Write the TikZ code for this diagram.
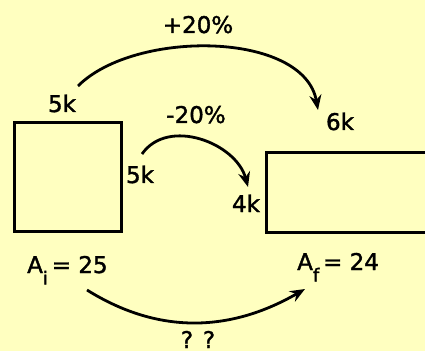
\documentclass[tikz,border=0pt]{standalone}
\usepackage{fontspec}
\setmainfont[FakeBold=1.6]{DejaVu Sans}
\usetikzlibrary{arrows.meta}

\definecolor{paper}{RGB}{255,255,192}

\begin{document}
\begin{tikzpicture}[
  x=1pt, y=1pt,
  font=\fontsize{23}{26}\selectfont,
  shp/.style={line width=3pt},
  a/.style={-{Stealth[length=15pt, width=12pt, inset=5pt]}, line width=2.8pt},
  lbl/.style={anchor=base, inner sep=0pt}]

% background and frame of the picture
\fill[paper] (0,0) rectangle (425,351);
\useasboundingbox (0,0) rectangle (425,351);
\clip (0,0) rectangle (425,351);

% =================== the two shapes ======================================
\draw[shp] (14,120) rectangle (121,228);
\draw[shp] (425,198) -- (266,198) -- (266,119) -- (425,119);

% =================== side lengths ========================================
\node[lbl] (wi) at (62,239) {5k};
\node[lbl] (hi) at (140,168) {5k};
\node[lbl] (wf) at (340,221) {6k};
\node[lbl] (hf) at (246,139) {4k};

\node[lbl] (up) at (198,318) {+20\%};
\node[lbl] (dn) at (196,228) {-20\%};

% =================== areas ===============================================
\node[lbl, anchor=base west] (ai) at (27,78)
     {A\raisebox{-0.5em}{\fontsize{18}{18}\selectfont i}\,= 25};
\node[lbl, anchor=base west] (af) at (297,81)
     {A\raisebox{-0.5em}{\fontsize{18}{18}\selectfont f}\,= 24};
\node[lbl] (qq) at (198,3) {? ?};

% =================== arrows ==============================================
\coordinate (s1) at (78,265);  \coordinate (e1) at (318,241);
\coordinate (s2) at (142,197); \coordinate (e2) at (248,164);
\coordinate (s3) at (87,61);   \coordinate (e3) at (305,62);

\draw[a] (s1) to[out=45, in=100, looseness=0.85] (e1);
\draw[a] (s2) to[out=55, in=105, looseness=1.05] (e2);
\draw[a] (s3) to[out=-32, in=-150, looseness=1.0] (e3);
\end{tikzpicture}
\end{document}
